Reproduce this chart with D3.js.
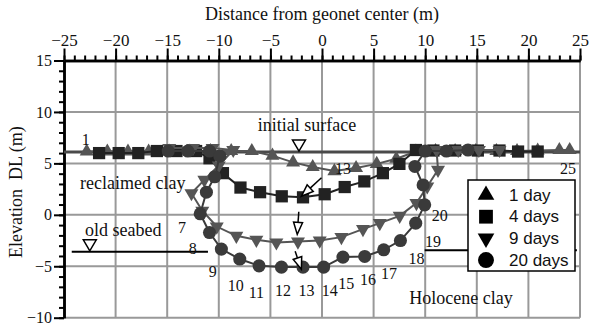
<!DOCTYPE html>
<html>
<head>
<meta charset="utf-8">
<script src="https://cdn.jsdelivr.net/npm/d3@7"></script>
<style>
  body { margin: 0; background: #fff; }
  text { font-family: "Liberation Serif", "Times New Roman", serif; fill: #111; }
  .legend text { font-family: "Liberation Sans", Arial, sans-serif; }
</style>
</head>
<body>
<div id="chart"></div>
<script>
// ---- data (metres) ----
const day1X = [-22.8, -20.8, -18.8, -16.8, -14.8, -12.8, -10.8, -8.8, -6.8, -4.8, -2.8, -0.9, 1.2, 3.3, 5.3, 7.2, 9.1, 11.0, 12.9, 14.9, 16.9, 18.9, 20.9, 23.0, 24.0];
const day1Y = [6.15, 6.15, 6.15, 6.15, 6.15, 6.15, 6.2, 6.2, 6.2, 5.75, 5.1, 4.65, 4.25, 4.55, 4.95, 5.45, 6.15, 6.2, 6.2, 6.2, 6.2, 6.2, 6.25, 6.3, 6.3];

const day4X = [-21.6, -19.7, -17.8, -16.0, -14.1, -12.2, -10.9, -9.6, -7.9, -6.0, -3.9, -1.84, 0.26, 2.2, 4.1, 5.9, 7.5, 9.1, 10.8, 12.9, 15.1, 17.2, 19.0, 20.9];
const day4Y = [6.0, 6.0, 6.0, 6.2, 6.2, 6.2, 5.5, 4.05, 2.65, 2.2, 1.8, 1.7, 2.0, 2.7, 3.25, 4.05, 4.95, 6.3, 6.25, 6.25, 6.25, 6.25, 6.15, 6.15];

const day9X = [-14.8, -12.5, -10.6, -8.6, -10.0, -11.4, -12.65, -11.6, -10.2, -8.3, -6.36, -4.42, -2.33, -0.22, 1.88, 3.97, 5.6, 7.53, 9.15, 10.2, 11.24, 11.1, 13.2, 15.2, 17.2];
const day9Y = [6.5, 6.5, 6.5, 6.3, 4.8, 3.4, 2.1, 0.4, -1.14, -2.04, -2.43, -2.69, -2.6, -2.5, -2.17, -1.39, -0.81, -0.1, 1.14, 2.75, 4.37, 6.3, 6.3, 6.3, 6.3];

const day20X = [-14.9, -13.0, -10.9, -9.9, -10.4, -11.2, -11.8, -10.9, -9.75, -7.97, -6.1, -3.93, -1.84, 0.16, 2.03, 4.14, 5.98, 7.6, 9.08, 9.95, 9.8, 9.0, 10.0, 12.05, 14.15];
const day20Y = [6.2, 6.2, 6.2, 5.7, 3.7, 2.2, 0.1, -1.72, -3.33, -4.3, -4.96, -5.08, -5.08, -5.08, -4.11, -4.05, -3.4, -2.5, -0.81, 0.97, 2.9, 4.7, 6.2, 6.2, 6.3];

const legendLabels = ["1 day", "4 days", "9 days", "20 days"];
const xTicks = d3.range(-25, 26, 5);
const yTicks = d3.range(-10, 16, 5);

// reference levels
const initialSurface = 6.1;
const oldSeabedLeft = [-24.25, -11.05, -3.6];
const oldSeabedRight = [9.95, 24.7, -3.45];

// point numbers (data coordinates of label centres)
const ptLabelText = ["1", "13", "25", "7", "8", "9", "10", "11", "12", "13", "14", "15", "16", "17", "18", "19", "20"];
const ptLabelX = [-22.9, 2.03, 23.84, -13.57, -12.53, -10.59, -8.36, -6.36, -3.78, -1.51, 0.75, 2.36, 4.46, 6.49, 9.15, 10.76, 11.4];
const ptLabelY = [7.29, 4.54, 4.54, -1.26, -3.3, -5.54, -6.9, -7.55, -7.36, -7.36, -7.36, -6.64, -6.32, -5.73, -4.21, -2.59, -0.05];

// region names
const areaText = ["initial surface", "reclaimed clay", "old seabed", "Holocene clay"];
const areaX = [-1.45, -18.34, -19.26, 13.47];
const areaY = [8.75, 3.08, -1.46, -8.07];

// movement arrows of point 13: [x0, y0, x1, y1]
const arrows = [[-0.05, 3.6, -2.0, 1.8], [-2.25, 0.3, -2.4, -1.9], [-2.6, -3.55, -2.0, -5.3]];

// --------------------------------------------
const width = 591, height = 326;
const x = d3.scaleLinear().domain([-25, 25]).range([64, 580]);
const y = d3.scaleLinear().domain([-10, 15]).range([317.7, 60.5]);

const svg = d3.select("#chart").append("svg")
  .attr("width", width).attr("height", height);

// grid
svg.append("g").selectAll("line").data(xTicks.slice(1)).join("line")
  .attr("x1", d => x(d)).attr("x2", d => x(d))
  .attr("y1", y(15)).attr("y2", y(-10))
  .attr("stroke", "#999").attr("stroke-width", 2);
svg.append("g").selectAll("line").data(yTicks.slice(0, -1)).join("line")
  .attr("x1", x(-25)).attr("x2", x(25))
  .attr("y1", d => y(d)).attr("y2", d => y(d))
  .attr("stroke", "#999").attr("stroke-width", 2);

// axes
const styleAxis = (size) => g => {
  g.select(".domain").attr("stroke", "#000").attr("stroke-width", 2.5);
  g.selectAll(".tick line").attr("stroke", "#000").attr("stroke-width", 2);
  g.selectAll("text").style("font-size", size).attr("fill", "#111")
    .style("font-family", "'Liberation Serif', 'Times New Roman', serif");
};
svg.append("g").attr("transform", `translate(0,${y(15)})`)
  .call(d3.axisTop(x).tickValues(d3.range(-25, 26, 1)).tickSize(5).tickSizeOuter(0).tickFormat(""))
  .call(styleAxis("17px"));
svg.append("g").attr("transform", `translate(0,${y(15)})`)
  .call(d3.axisTop(x).tickValues(xTicks).tickSize(12).tickPadding(3).tickSizeOuter(0))
  .call(styleAxis("17px"));
svg.append("g").attr("transform", `translate(${x(-25)},0)`)
  .call(d3.axisLeft(y).tickValues(d3.range(-10, 16, 1)).tickSize(5).tickSizeOuter(0).tickFormat(""))
  .call(styleAxis("16px"));
svg.append("g").attr("transform", `translate(${x(-25)},0)`)
  .call(d3.axisLeft(y).tickValues(yTicks).tickSize(10).tickPadding(2).tickSizeOuter(0))
  .call(styleAxis("16px"));

// axis titles
svg.append("text").attr("x", (x(-25) + x(25)) / 2).attr("y", 20)
  .attr("text-anchor", "middle").style("font-size", "18px")
  .text("Distance from geonet center (m)");
svg.append("text").attr("transform", `translate(22,${(y(15) + y(-10)) / 2 + 3}) rotate(-90)`)
  .attr("text-anchor", "middle").style("font-size", "18px")
  .style("white-space", "pre").attr("xml:space", "preserve")
  .text("Elevation  DL (m)");

// reference lines
svg.append("line").attr("x1", x(-25)).attr("x2", x(25))
  .attr("y1", y(initialSurface)).attr("y2", y(initialSurface))
  .attr("stroke", "#4a4a4a").attr("stroke-width", 3);
[oldSeabedLeft, oldSeabedRight].forEach(s => {
  svg.append("line").attr("x1", x(s[0])).attr("x2", x(s[1]))
    .attr("y1", y(s[2])).attr("y2", y(s[2]))
    .attr("stroke", "#000").attr("stroke-width", 2);
});

// level marks (open inverted triangles)
const levelMark = (xv, yv) => {
  const px = x(xv), py = y(yv);
  svg.append("path")
    .attr("d", `M${px},${py - 1} L${px - 6.5},${py - 12} L${px + 6.5},${py - 12} Z`)
    .attr("fill", "#fff").attr("stroke", "#000").attr("stroke-width", 1.5);
};
levelMark(-2.23, initialSurface);
levelMark(-22.5, oldSeabedLeft[2]);

// region names
svg.append("g").selectAll("text").data(areaText).join("text")
  .attr("x", (d, i) => x(areaX[i])).attr("y", (d, i) => y(areaY[i]))
  .attr("text-anchor", "middle").attr("dominant-baseline", "central")
  .style("font-size", "18px").text(d => d);

// series
const series = [
  { xs: day1X, ys: day1Y, sym: d3.symbolTriangle, size: 85, rot: 0, color: "#555" },
  { xs: day4X, ys: day4Y, sym: d3.symbolSquare, size: 150, rot: 0, color: "#222" },
  { xs: day9X, ys: day9Y, sym: d3.symbolTriangle, size: 85, rot: 180, color: "#555" },
  { xs: day20X, ys: day20Y, sym: d3.symbolCircle, size: 135, rot: 0, color: "#3a3a3a" }
];

const line = d3.line().x(d => x(d[0])).y(d => y(d[1]));

series.forEach(s => {
  const pts = s.xs.map((v, i) => [v, s.ys[i]]);
  const g = svg.append("g");
  g.append("path").datum(pts).attr("d", line)
    .attr("fill", "none").attr("stroke", s.color).attr("stroke-width", 2);
  g.selectAll("path.pt").data(pts).join("path").attr("class", "pt")
    .attr("d", d3.symbol(s.sym, s.size))
    .attr("transform", d => `translate(${x(d[0])},${y(d[1])}) rotate(${s.rot})`)
    .attr("fill", s.color);
});

// point numbers
svg.append("g").selectAll("text").data(ptLabelText).join("text")
  .attr("x", (d, i) => x(ptLabelX[i])).attr("y", (d, i) => y(ptLabelY[i]))
  .attr("text-anchor", "middle").attr("dominant-baseline", "central")
  .style("font-size", "16px").text(d => d);

// arrows
arrows.forEach(a => {
  const x0 = x(a[0]), y0 = y(a[1]), x1 = x(a[2]), y1 = y(a[3]);
  const ang = Math.atan2(y1 - y0, x1 - x0);
  const L = 12, w = 4.5;
  const bx = x1 - L * Math.cos(ang), by = y1 - L * Math.sin(ang);
  const nx = -Math.sin(ang) * w, ny = Math.cos(ang) * w;
  svg.append("line").attr("x1", x0).attr("y1", y0).attr("x2", bx).attr("y2", by)
    .attr("stroke", "#000").attr("stroke-width", 1.5);
  svg.append("path")
    .attr("d", `M${x1},${y1} L${bx + nx},${by + ny} L${bx - nx},${by - ny} Z`)
    .attr("fill", "#fff").attr("stroke", "#000").attr("stroke-width", 1.5);
});

// legend
const legend = svg.append("g").attr("class", "legend");
legend.append("rect").attr("x", 468).attr("y", 180).attr("width", 107).attr("height", 91)
  .attr("fill", "#fff").attr("stroke", "#000").attr("stroke-width", 1.5);
const legSyms = [[d3.symbolTriangle, 120, 0], [d3.symbolSquare, 190, 0], [d3.symbolTriangle, 120, 180], [d3.symbolCircle, 200, 0]];
legendLabels.forEach((lab, i) => {
  const ly = 195 + i * 21.7;
  legend.append("path").attr("d", d3.symbol(legSyms[i][0], legSyms[i][1]))
    .attr("transform", `translate(486,${ly}) rotate(${legSyms[i][2]})`).attr("fill", "#000");
  legend.append("text").attr("x", 509).attr("y", ly).attr("dominant-baseline", "central")
    .style("font-size", "17px").text(lab);
});
</script>
</body>
</html>
